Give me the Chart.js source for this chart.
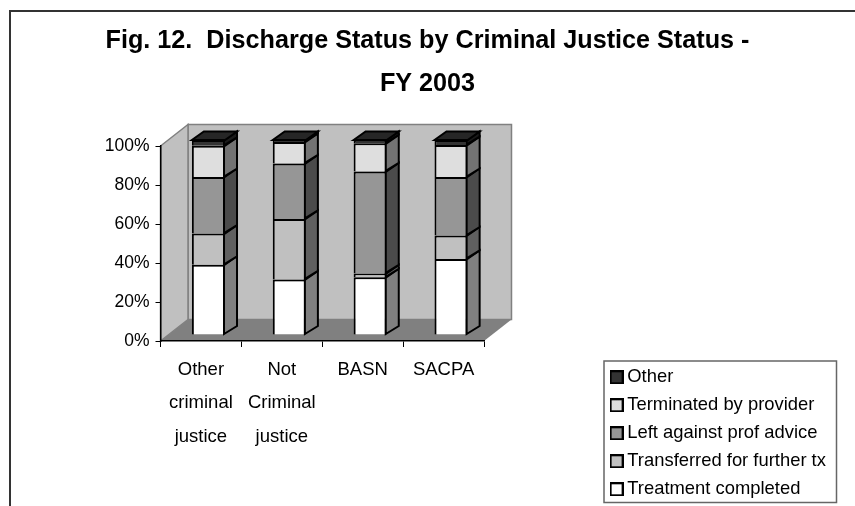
<!DOCTYPE html>
<html><head><meta charset="utf-8">
<style>html,body{margin:0;padding:0;background:#fff}canvas{display:block}</style>
<script src="https://cdn.jsdelivr.net/npm/chart.js@4"></script>
</head><body><canvas id="c" width="855" height="506"></canvas>
<script>
const titleLines = ["Fig. 12.  Discharge Status by Criminal Justice Status -", "FY 2003"];
const categories = [["Other","criminal","justice"],["Not","Criminal","justice"],["BASN"],["SACPA"]];
const treatmentCompleted = [36, 28.5, 29.6, 39];
const transferred = [16, 31, 2, 12];
const leftAgainstAdvice = [29, 28.5, 52.3, 30];
const terminatedByProvider = [16, 11, 14.4, 16.4];
const other = [3, 1, 1.7, 2.6];
const seriesNames = ["Treatment completed","Transferred for further tx","Left against prof advice","Terminated by provider","Other"];
const yTicks = [0,20,40,60,80,100];

function dotted(a,b){
  const p=document.createElement('canvas');p.width=p.height=2;
  const x=p.getContext('2d');x.fillStyle=a;x.fillRect(0,0,2,2);x.fillStyle=b;x.fillRect(0,0,1,1);x.fillRect(1,1,1,1);
  return x.createPattern(p,'repeat');
}
const frontFill=['#ffffff','#c0c0c0','#969696',dotted('#e6e6e6','#d6d6d6'),'#333333'];
const sideFill=['#808080','#606060','#4b4b4b',dotted('#808080','#666666'),'#1a1a1a'];
const topFill=['#ffffff','#c0c0c0','#969696','#e0e0e0','#262626'];
const values=[treatmentCompleted,transferred,leftAgainstAdvice,terminatedByProvider,other];

function swatch(fill){
  const s=document.createElement('canvas');s.width=s.height=14;
  const x=s.getContext('2d');x.fillStyle=fill;x.fillRect(1,1,12,12);
  x.strokeStyle='#000';x.lineWidth=2;x.strokeRect(1,1,12,12);return s;
}
const barShift={x:7.5,y:-6}, barDepth={x:12,y:-8.5}, wallDepth={x:27.5,y:-21.5};

const scene={
  id:'scene',
  afterLayout(ch){
    const l=ch.legend; l.left=605.5; l.top=358.5; l.right=845; l.bottom=560;
  },
  beforeDraw(ch){
    const c=ch.ctx,a=ch.chartArea,d=wallDepth;
    c.save();
    c.strokeStyle='#333';c.lineWidth=2;
    c.beginPath();c.moveTo(10,506);c.lineTo(10,11);c.lineTo(855,11);c.stroke();
    c.strokeStyle='#808080';c.lineWidth=1.5;
    c.fillStyle='#c0c0c0';
    c.beginPath();c.rect(a.left+d.x,a.top+d.y,a.right-a.left,a.bottom-a.top);c.fill();c.stroke();
    c.beginPath();c.moveTo(a.left,a.bottom);c.lineTo(a.left+d.x,a.bottom+d.y);c.lineTo(a.left+d.x,a.top+d.y);c.lineTo(a.left,a.top);c.closePath();c.fill();c.stroke();
    c.fillStyle='#808080';
    c.beginPath();c.moveTo(a.left,a.bottom);c.lineTo(a.left+d.x,a.bottom+d.y);c.lineTo(a.right+d.x,a.bottom+d.y);c.lineTo(a.right,a.bottom);c.closePath();c.fill();
    c.strokeStyle='#666';c.lineWidth=1.5;c.strokeRect(604,361,232.5,141.5);
    c.restore();
  },
  beforeDatasetsDraw(ch){ch.ctx.save();ch.ctx.translate(barShift.x,barShift.y);},
  afterDatasetsDraw(ch){
    const c=ch.ctx,d=barDepth;
    c.strokeStyle='#000';c.lineWidth=2;c.lineJoin='miter';
    ch.data.datasets.forEach((ds,i)=>{
      ch.getDatasetMeta(i).data.forEach(b=>{
        const p=b.getProps(['x','y','base','width'],true);
        const r=p.x+p.width/2,l=p.x-p.width/2;
        c.fillStyle=sideFill[i];
        c.beginPath();c.moveTo(r-1,p.base-.5);c.lineTo(r+d.x,p.base+d.y);c.lineTo(r+d.x,p.y+d.y);c.lineTo(r-1,p.y+.5);c.closePath();c.fill();c.stroke();
        if(i===ch.data.datasets.length-1){
          c.fillStyle=topFill[i];
          c.beginPath();c.moveTo(l,p.y);c.lineTo(l+d.x,p.y+d.y);c.lineTo(r+d.x,p.y+d.y);c.lineTo(r,p.y);c.closePath();c.fill();c.stroke();
        }
      });
    });
    c.restore();
  }
};

const FONT='"Liberation Sans", Arial, sans-serif';
new Chart(document.getElementById('c'),{
  type:'bar',
  data:{labels:categories,datasets:seriesNames.map((n,i)=>({
    label:n,data:values[i],backgroundColor:frontFill[i],borderColor:'#000',borderWidth:2,
    barPercentage:0.41,categoryPercentage:1,clip:false,yAxisID:'y'
  }))},
  options:{
    responsive:false,animation:false,
    layout:{padding:0},
    scales:{
      x:{stacked:true,
        afterFit(s){s.height=165;},
        grid:{drawOnChartArea:false,drawTicks:true,tickLength:6,color:'#000',lineWidth:1},
        border:{color:'#000',width:1.5},
        ticks:{color:'#000',maxRotation:0,autoSkip:false,padding:6,font:{family:FONT,size:18.5,lineHeight:'33.5px'}}
      },
      y:{stacked:true,min:0,max:100,
        afterFit(s){s.width=160.5;},
        afterBuildTicks(s){s.ticks=yTicks.map(v=>({value:v}));},
        grid:{drawOnChartArea:false,drawTicks:true,tickLength:5,color:'#000',lineWidth:1},
        border:{color:'#000',width:1.5},
        ticks:{color:'#000',padding:6,font:{family:FONT,size:17.5},callback:v=>v+'%'}
      },
      rightSpace:{position:'right',
        afterFit(s){s.width=371;},
        grid:{display:false},border:{display:false},ticks:{display:false}
      }
    },
    plugins:{
      tooltip:{enabled:false},
      title:{display:true,text:titleLines,color:'#000',padding:{top:20,bottom:40},font:{family:FONT,size:25.2,weight:'bold',lineHeight:'43px'}},
      legend:{position:'chartArea',align:'start',reverse:true,
        labels:{color:'#000',usePointStyle:true,boxHeight:3,boxWidth:3,padding:9.6,font:{family:FONT,size:18.4},
          generateLabels(ch){
            return Chart.defaults.plugins.legend.labels.generateLabels(ch).map(it=>{
              it.pointStyle=swatch(frontFill[it.datasetIndex]);it.lineWidth=0;return it;
            });
          }
        }
      }
    }
  },
  plugins:[scene]
});
</script></body></html>
